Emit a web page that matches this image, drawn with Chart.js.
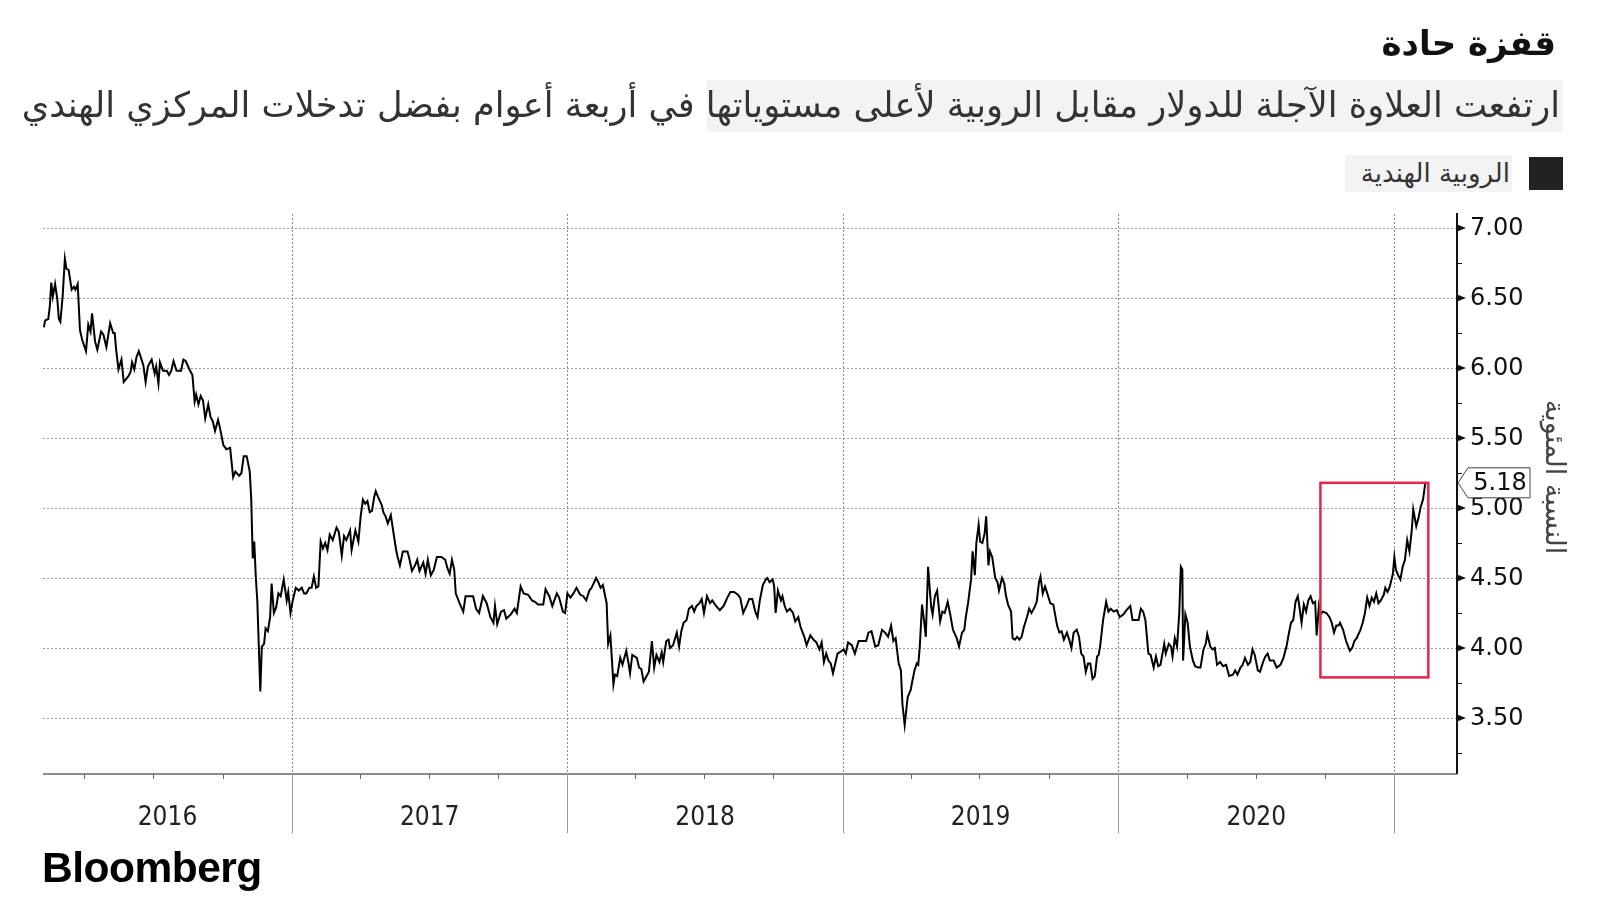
<!DOCTYPE html>
<html lang="ar">
<head>
<meta charset="utf-8">
<title>قفزة حادة</title>
<script src="https://cdn.jsdelivr.net/npm/chart.js@4.4.1/dist/chart.umd.min.js"></script>
<style>
  html, body { margin: 0; padding: 0; background: #fff; }
  #page { position: relative; width: 1600px; height: 900px; overflow: hidden; font-family: 'DejaVu Sans', sans-serif; }
  #chart { position: absolute; left: 0; top: 0; }
  .rtl { position: absolute; direction: rtl; white-space: nowrap; }
  #title { right: 44px; top: 22px; font-size: 34px; line-height: 42px; font-weight: bold; color: #111; }
  #subtitle-bg { position: absolute; left: 707px; top: 80px; width: 856px; height: 52px; background: #f3f3f3; }
  #subtitle { right: 40px; top: 82px; font-size: 30px; line-height: 46px; color: #333; }
  #legend-bg { position: absolute; left: 1345px; top: 155px; width: 167px; height: 37px; background: #f3f3f3; }
  #legend-box { position: absolute; left: 1529px; top: 157px; width: 34px; height: 33px; background: #222; }
  #legend-text { right: 90px; top: 155px; font-size: 26px; line-height: 36px; color: #333; }
  #logo { position: absolute; left: 42px; top: 843px; font-family: 'Liberation Sans', Arial, sans-serif; font-weight: bold; font-size: 42.5px; line-height: 50px; letter-spacing: -0.5px; color: #000; }
</style>
</head>
<body>
<div id="page">
  <canvas id="chart" width="1600" height="900"></canvas>
  <div id="subtitle-bg"></div>
  <div id="legend-bg"></div>
  <div class="rtl" id="title">قفزة حادة</div>
  <div class="rtl" id="subtitle">ارتفعت العلاوة الآجلة للدولار مقابل الروبية لأعلى مستوياتها في أربعة أعوام بفضل تدخلات المركزي الهندي</div>
  <div id="legend-box"></div>
  <div class="rtl" id="legend-text">الروبية الهندية</div>
  <div id="logo">Bloomberg</div>
</div>
<script>
// Days counted from 2016-01-01
const days = [
  37, 39, 43, 45, 47, 49, 52, 55, 57, 59, 62, 65, 67, 70, 74, 77, 79, 82, 85, 88,
  93, 96, 99, 101, 105, 108, 113, 116, 120, 125, 129, 131, 133, 136, 140, 143, 149, 152, 154, 157,
  160, 163, 169, 172, 175, 180, 184, 186, 189, 191, 195, 200, 203, 206, 209, 213, 219, 222, 225, 231,
  234, 237, 239, 242, 245, 248, 251, 255, 258, 261, 264, 268, 271, 275, 279, 284, 288, 291, 296, 299,
  302, 306, 310, 312, 314, 316, 318, 320, 324, 326, 329, 331, 334, 337, 339, 342, 345, 348, 351, 355,
  359, 361, 364, 367, 371, 375, 379, 382, 385, 389, 392, 395, 398, 401, 404, 407, 410, 413, 416, 420,
  425, 428, 432, 435, 438, 443, 445, 450, 454, 457, 460, 463, 466, 469, 472, 475, 477, 480, 485, 487,
  490, 493, 497, 500, 504, 506, 509, 513, 519, 521, 525, 529, 532, 535, 540, 543, 546, 550, 554, 558,
  564, 569, 572, 575, 578, 581, 583, 588, 593, 596, 601, 606, 610, 614, 619, 624, 629, 633, 635, 638,
  643, 647, 650, 656, 661, 664, 669, 673, 679, 684, 688, 692, 699, 702, 707, 711, 717, 720, 725, 728,
  731, 735, 739, 743, 748, 752, 756, 760, 763, 769, 772, 775, 778, 783, 785, 788, 792, 794, 797, 801,
  804, 809, 812, 814, 817, 823, 826, 829, 832, 836, 839, 843, 846, 849, 853, 856, 858, 862, 865, 867,
  871, 876, 879, 882, 885, 889, 892, 896, 899, 902, 906, 909, 912, 916, 920, 923, 928, 933, 938, 943,
  947, 952, 957, 960, 964, 969, 972, 976, 980, 983, 986, 990, 994, 996, 999, 1003, 1005, 1007, 1010, 1014,
  1016, 1019, 1022, 1026, 1030, 1033, 1037, 1040, 1045, 1048, 1053, 1057, 1061, 1065, 1068, 1071, 1074, 1077, 1080, 1083,
  1086, 1089, 1092, 1097, 1100, 1103, 1108, 1112, 1117, 1119, 1127, 1130, 1134, 1139, 1143, 1148, 1152, 1156, 1160, 1163,
  1166, 1170, 1173, 1175, 1178, 1182, 1186, 1188, 1191, 1194, 1196, 1198, 1201, 1204, 1206, 1209, 1213, 1215, 1218, 1221,
  1225, 1228, 1231, 1235, 1238, 1242, 1247, 1250, 1254, 1257, 1259, 1262, 1266, 1268, 1271, 1273, 1276, 1278, 1281, 1284,
  1286, 1289, 1291, 1294, 1298, 1301, 1303, 1307, 1310, 1312, 1315, 1319, 1321, 1324, 1327, 1330, 1333, 1336, 1340, 1343,
  1346, 1350, 1353, 1356, 1358, 1361, 1364, 1367, 1371, 1375, 1380, 1383, 1386, 1389, 1393, 1396, 1399, 1402, 1406, 1409,
  1412, 1415, 1418, 1421, 1424, 1427, 1430, 1433, 1435, 1437, 1441, 1445, 1448, 1451, 1455, 1459, 1463, 1468, 1472, 1477,
  1480, 1485, 1488, 1491, 1494, 1497, 1501, 1504, 1508, 1511, 1514, 1517, 1522, 1524, 1528, 1531, 1533, 1536, 1539, 1542,
  1544, 1546, 1547, 1550, 1553, 1556, 1560, 1563, 1567, 1570, 1574, 1577, 1579, 1583, 1586, 1589, 1592, 1596, 1600, 1604,
  1608, 1613, 1616, 1619, 1623, 1626, 1629, 1633, 1636, 1639, 1642, 1646, 1649, 1653, 1656, 1659, 1662, 1667, 1671, 1676,
  1680, 1684, 1687, 1690, 1693, 1696, 1699, 1701, 1704, 1707, 1710, 1713, 1716, 1719, 1722, 1724, 1727, 1729, 1732, 1737,
  1741, 1744, 1747, 1750, 1753, 1755, 1759, 1763, 1768, 1771, 1774, 1777, 1782, 1785, 1788, 1791, 1794, 1797, 1800, 1803,
  1806, 1809, 1813, 1815, 1818, 1821, 1825, 1827, 1829, 1832, 1835, 1838, 1841, 1844, 1847, 1850, 1852, 1856, 1859, 1862,
  1865, 1868
];
// 12-month forward premium, %
const premium = [
  6.29, 6.34, 6.35, 6.44, 6.61, 6.51, 6.60, 6.49, 6.35, 6.33, 6.51, 6.78, 6.71, 6.70, 6.56, 6.58, 6.56, 6.60, 6.27, 6.20,
  6.12, 6.31, 6.26, 6.39, 6.19, 6.13, 6.26, 6.24, 6.15, 6.32, 6.25, 6.25, 6.13, 5.99, 6.06, 5.90, 5.94, 5.97, 6.04, 5.99,
  6.08, 6.12, 6.02, 5.90, 6.01, 6.06, 5.96, 6.01, 5.89, 6.04, 5.98, 5.98, 5.95, 5.98, 6.05, 5.98, 5.98, 6.06, 6.05, 5.98,
  5.95, 5.76, 5.81, 5.74, 5.80, 5.77, 5.64, 5.74, 5.65, 5.62, 5.55, 5.63, 5.56, 5.45, 5.42, 5.43, 5.22, 5.26, 5.23, 5.25,
  5.37, 5.37, 5.26, 5.06, 4.64, 4.76, 4.51, 4.34, 3.69, 4.01, 4.03, 4.14, 4.12, 4.22, 4.46, 4.25, 4.29, 4.39, 4.37, 4.49,
  4.34, 4.40, 4.25, 4.34, 4.43, 4.41, 4.43, 4.39, 4.39, 4.43, 4.43, 4.51, 4.43, 4.44, 4.76, 4.71, 4.75, 4.70, 4.81, 4.77,
  4.86, 4.83, 4.66, 4.80, 4.77, 4.84, 4.70, 4.84, 4.76, 4.94, 5.06, 5.03, 5.05, 4.97, 4.98, 5.08, 5.12, 5.08, 5.02, 4.97,
  4.94, 4.89, 4.95, 4.84, 4.70, 4.65, 4.59, 4.69, 4.69, 4.65, 4.55, 4.59, 4.63, 4.55, 4.61, 4.53, 4.63, 4.52, 4.56, 4.65,
  4.65, 4.63, 4.57, 4.53, 4.63, 4.56, 4.39, 4.32, 4.26, 4.37, 4.37, 4.37, 4.28, 4.25, 4.37, 4.32, 4.22, 4.18, 4.30, 4.17,
  4.26, 4.27, 4.21, 4.24, 4.28, 4.25, 4.44, 4.39, 4.38, 4.34, 4.33, 4.31, 4.31, 4.42, 4.37, 4.30, 4.39, 4.36, 4.26, 4.25,
  4.39, 4.36, 4.39, 4.43, 4.38, 4.37, 4.34, 4.41, 4.43, 4.50, 4.47, 4.43, 4.45, 4.32, 4.03, 4.09, 3.74, 3.81, 3.80, 3.93,
  3.88, 3.98, 3.89, 3.82, 3.95, 3.93, 3.86, 3.85, 3.76, 3.80, 3.83, 4.05, 3.86, 3.95, 3.90, 3.97, 3.90, 4.05, 4.06, 4.00,
  4.02, 4.11, 4.01, 4.12, 4.18, 4.20, 4.28, 4.30, 4.26, 4.30, 4.32, 4.35, 4.25, 4.37, 4.32, 4.34, 4.30, 4.27, 4.30, 4.36,
  4.40, 4.40, 4.38, 4.36, 4.25, 4.31, 4.35, 4.35, 4.26, 4.22, 4.34, 4.45, 4.49, 4.50, 4.47, 4.49, 4.44, 4.25, 4.41, 4.34,
  4.37, 4.30, 4.26, 4.28, 4.25, 4.19, 4.22, 4.15, 4.08, 4.02, 4.09, 4.06, 4.04, 3.99, 4.04, 3.90, 3.96, 3.91, 3.89, 3.82,
  3.89, 3.96, 3.97, 3.99, 3.96, 4.04, 4.02, 3.96, 4.05, 4.05, 4.05, 4.11, 4.12, 4.01, 4.02, 4.13, 4.11, 4.08, 4.16, 4.05,
  4.07, 3.89, 3.84, 3.60, 3.45, 3.65, 3.70, 3.76, 3.84, 3.89, 3.88, 4.01, 4.31, 4.18, 4.08, 4.58, 4.30, 4.24, 4.37, 4.41,
  4.19, 4.26, 4.25, 4.33, 4.25, 4.13, 4.07, 4.01, 4.11, 4.13, 4.22, 4.32, 4.49, 4.69, 4.52, 4.75, 4.88, 4.76, 4.75, 4.82,
  4.94, 4.59, 4.69, 4.65, 4.50, 4.47, 4.41, 4.50, 4.46, 4.38, 4.31, 4.26, 4.07, 4.06, 4.08, 4.06, 4.08, 4.15, 4.22, 4.28,
  4.25, 4.29, 4.33, 4.47, 4.51, 4.39, 4.44, 4.39, 4.32, 4.31, 4.16, 4.11, 4.12, 4.06, 4.11, 4.06, 4.00, 4.11, 4.13, 4.08,
  3.96, 3.94, 3.83, 3.89, 3.89, 3.78, 3.80, 3.94, 3.95, 4.01, 4.20, 4.33, 4.26, 4.28, 4.26, 4.27, 4.22, 4.24, 4.27, 4.30,
  4.20, 4.20, 4.20, 4.28, 4.26, 4.20, 3.96, 3.95, 3.86, 3.94, 3.87, 3.88, 4.03, 3.96, 4.03, 4.01, 3.94, 4.07, 4.01, 4.26,
  4.58, 4.56, 3.91, 4.24, 4.18, 4.01, 3.91, 3.87, 3.86, 3.86, 3.99, 4.03, 4.10, 4.01, 3.99, 4.00, 3.88, 3.90, 3.87, 3.88,
  3.80, 3.81, 3.84, 3.81, 3.86, 3.88, 3.93, 3.88, 3.90, 3.99, 3.95, 3.84, 3.83, 3.90, 3.94, 3.96, 3.91, 3.91, 3.86, 3.88,
  3.93, 4.01, 4.10, 4.18, 4.20, 4.33, 4.37, 4.30, 4.18, 4.31, 4.26, 4.34, 4.37, 4.32, 4.33, 4.09, 4.30, 4.24, 4.26, 4.25,
  4.22, 4.18, 4.11, 4.16, 4.16, 4.18, 4.13, 4.05, 3.98, 4.00, 4.05, 4.07, 4.13, 4.18, 4.25, 4.36, 4.30, 4.36, 4.33, 4.39,
  4.32, 4.34, 4.38, 4.43, 4.40, 4.44, 4.53, 4.65, 4.56, 4.52, 4.49, 4.58, 4.63, 4.77, 4.69, 4.84, 4.99, 4.87, 4.93, 5.01,
  5.06, 5.18
];
const years = [2016, 2017, 2018, 2019, 2020];
const yTicks = [3.5, 4.0, 4.5, 5.0, 5.5, 6.0, 6.5, 7.0];
const X_MIN = 36, X_MAX = 1910;
const Y_MIN = 3.1, Y_MAX = 7.1;
// Red box around the recent jump: day range and value range
const highlight = { from: 1729, to: 1872, low: 3.79, high: 5.18 };

const LABEL_FONT = "24px 'DejaVu Sans', sans-serif";
const TITLE_FONT = "27px 'DejaVu Sans', sans-serif";
const YEAR_FONT = "26px 'DejaVu Sans Condensed', 'Liberation Sans Narrow', sans-serif";

function dayOf(year, month) {
  return (Date.UTC(year, month, 1) - Date.UTC(2016, 0, 1)) / 86400000;
}

const yearStarts = years.slice(1).concat(2021).map(y => dayOf(y, 0));
const quarterDays = [];
years.concat(2021).forEach(y => [3, 6, 9].forEach(m => {
  const d = dayOf(y, m);
  if (d > X_MIN && d < X_MAX) quarterDays.push(d);
}));

function seg(ctx, x1, y1, x2, y2) {
  ctx.beginPath();
  ctx.moveTo(x1, y1);
  ctx.lineTo(x2, y2);
  ctx.stroke();
}

const decor = {
  id: 'decor',
  beforeDatasetsDraw(chart) {
    const { ctx, chartArea: a, scales: { x, y } } = chart;
    ctx.save();
    ctx.lineWidth = 1;
    ctx.strokeStyle = '#9a9a9a';
    ctx.setLineDash([2, 2]);
    yTicks.forEach(v => {
      const py = Math.round(y.getPixelForValue(v)) + 0.5;
      seg(ctx, a.left, py, a.right, py);
    });
    ctx.strokeStyle = '#888';
    yearStarts.forEach(d => {
      const px = Math.round(x.getPixelForValue(d)) + 0.5;
      seg(ctx, px, a.top, px, a.bottom);
    });
    ctx.restore();
  },
  afterDraw(chart) {
    const { ctx, chartArea: a, scales: { x, y } } = chart;
    ctx.save();

    // bottom axis
    ctx.strokeStyle = '#666';
    ctx.lineWidth = 1.5;
    seg(ctx, a.left, a.bottom, a.right, a.bottom);
    ctx.lineWidth = 1;
    quarterDays.forEach(d => {
      const px = Math.round(x.getPixelForValue(d)) + 0.5;
      seg(ctx, px, a.bottom, px, a.bottom + 5);
    });
    ctx.strokeStyle = '#999';
    yearStarts.forEach(d => {
      const px = Math.round(x.getPixelForValue(d)) + 0.5;
      seg(ctx, px, a.bottom, px, a.bottom + 59);
    });

    // year labels, centred in the visible part of each year
    ctx.fillStyle = '#222';
    ctx.font = YEAR_FONT;
    ctx.textAlign = 'center';
    ctx.textBaseline = 'middle';
    years.forEach(yr => {
      const from = Math.max(dayOf(yr, 0), X_MIN);
      const to = Math.min(dayOf(yr + 1, 0), X_MAX);
      const cx = (x.getPixelForValue(from) + x.getPixelForValue(to)) / 2;
      ctx.fillText(String(yr), cx, a.bottom + 44);
    });

    // right axis
    ctx.strokeStyle = '#111';
    ctx.lineWidth = 2;
    seg(ctx, a.right, a.top - 1, a.right, a.bottom);
    ctx.lineWidth = 1;
    for (let v = 3.25; v < Y_MAX; v += 0.5) {
      const py = Math.round(y.getPixelForValue(v)) + 0.5;
      seg(ctx, a.right, py, a.right + 5, py);
    }
    ctx.fillStyle = '#111';
    ctx.font = LABEL_FONT;
    ctx.textAlign = 'left';
    yTicks.forEach(v => {
      const py = y.getPixelForValue(v);
      ctx.beginPath();
      ctx.moveTo(a.right, py - 3.5);
      ctx.lineTo(a.right + 9, py);
      ctx.lineTo(a.right, py + 3.5);
      ctx.closePath();
      ctx.fill();
      ctx.fillText(v.toFixed(2), a.right + 13, py + 1);
    });

    // highlight box
    ctx.strokeStyle = '#e3274b';
    ctx.lineWidth = 2.5;
    const hx1 = x.getPixelForValue(highlight.from), hx2 = x.getPixelForValue(highlight.to);
    const hy1 = y.getPixelForValue(highlight.high), hy2 = y.getPixelForValue(highlight.low);
    ctx.strokeRect(hx1, hy1, hx2 - hx1, hy2 - hy1);

    // last value tag
    const last = premium[premium.length - 1];
    const ly = y.getPixelForValue(last);
    const tx = a.right + 1;
    ctx.beginPath();
    ctx.moveTo(tx, ly);
    ctx.lineTo(tx + 10, ly - 15);
    ctx.lineTo(tx + 72, ly - 15);
    ctx.lineTo(tx + 72, ly + 15);
    ctx.lineTo(tx + 10, ly + 15);
    ctx.closePath();
    ctx.fillStyle = '#fff';
    ctx.fill();
    ctx.strokeStyle = '#444';
    ctx.lineWidth = 1;
    ctx.stroke();
    ctx.fillStyle = '#111';
    ctx.textAlign = 'center';
    ctx.fillText(last.toFixed(2), tx + 42, ly + 1);

    // axis title
    ctx.translate(a.right + 96, a.top + 263);
    ctx.rotate(Math.PI / 2);
    ctx.fillStyle = '#444';
    ctx.font = TITLE_FONT;
    ctx.textAlign = 'center';
    ctx.fillText('النسبة المئوية', 0, 0);
    ctx.restore();
  }
};

new Chart(document.getElementById('chart'), {
  type: 'line',
  data: {
    datasets: [{
      data: days.map((d, i) => ({ x: d, y: premium[i] })),
      borderColor: '#000',
      borderWidth: 2,
      pointRadius: 0,
      tension: 0
    }]
  },
  options: {
    responsive: false,
    animation: false,
    layout: { padding: { left: 43, top: 214, right: 143, bottom: 126 } },
    plugins: { legend: { display: false }, tooltip: { enabled: false } },
    scales: {
      x: { type: 'linear', display: false, min: X_MIN, max: X_MAX },
      y: { type: 'linear', display: false, min: Y_MIN, max: Y_MAX }
    }
  },
  plugins: [decor]
});

// stretch the subtitle to the width it takes in the original
const sub = document.getElementById('subtitle');
const w = sub.getBoundingClientRect().width;
sub.style.fontSize = (30 * 1539 / w).toFixed(2) + 'px';
</script>
</body>
</html>
